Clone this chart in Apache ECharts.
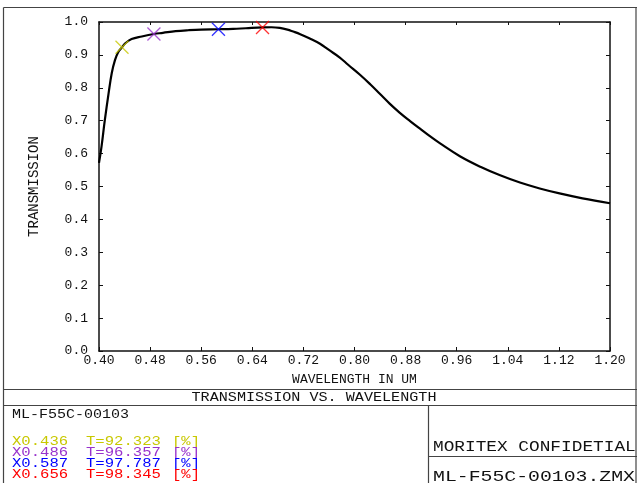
<!DOCTYPE html>
<html>
<head>
<meta charset="utf-8">
<script src="https://cdn.jsdelivr.net/npm/echarts@6/dist/echarts.min.js"></script>
<style>html,body{margin:0;padding:0;background:#fff}#c{width:637px;height:483px}</style>
</head>
<body>
<div id="c"></div>
<script>
// Curve data (wavelength in um, transmission)
var wavelength = [0.400,0.404,0.409,0.415,0.420,0.425,0.430,0.436,0.441,0.451,0.467,0.486,0.500,0.520,0.540,0.560,0.587,0.610,0.630,0.656,0.670,0.683,0.695,0.704,0.715,0.730,0.746,0.760,0.777,0.790,0.809,0.825,0.840,0.855,0.871,0.887,0.903,0.918,0.934,0.965,0.997,1.028,1.059,1.090,1.121,1.157,1.200];
var transmission = [0.572,0.622,0.700,0.783,0.845,0.884,0.908,0.923,0.935,0.948,0.956,0.9636,0.967,0.972,0.975,0.977,0.9779,0.979,0.981,0.9835,0.984,0.982,0.977,0.971,0.963,0.950,0.934,0.915,0.892,0.870,0.839,0.810,0.781,0.752,0.724,0.699,0.675,0.653,0.631,0.592,0.560,0.534,0.512,0.494,0.479,0.464,0.449];
// Marked points
var markWl = [0.436,0.486,0.587,0.656];
var markT = [92.323,96.357,97.787,98.345];
var markColors = ['#c8c800','#9933cc','#0000ff','#ff0000'];
// Axis ticks
var xMin = 0.40, xMax = 1.20, xStep = 0.08;
var yMin = 0.0, yMax = 1.0, yStep = 0.1;
var titleText = 'TRANSMISSION VS. WAVELENGTH';
var fileName = 'ML-F55C-00103';
var confText = 'MORITEX CONFIDETIAL';
var zmxText = 'ML-F55C-00103.ZMX';

var FONT = 'Liberation Mono';
var chart = echarts.init(document.getElementById('c'));

var curve = wavelength.map(function(w,i){return [w, transmission[i]];});
var xPath = 'path://M0,0L10,10M10,0L0,10';
var markSeries = markWl.map(function(w,i){
  return {
    type:'scatter', data:[[w, markT[i]/100]], symbol:xPath, symbolSize:13,
    itemStyle:{color:'rgba(0,0,0,0)', borderColor:markColors[i], borderWidth:1.3},
    z:5, silent:true
  };
});

var g = [];
function line(x1,y1,x2,y2){
  g.push({type:'line', shape:{x1:x1,y1:y1,x2:x2,y2:y2}, style:{stroke:'#444', lineWidth:1.2}, silent:true});
}
function txt(t,x,y,size,sx,color,align){
  g.push({type:'text', x:x, y:y, scaleX:sx, scaleY:1,
    style:{text:t, fontFamily:FONT, fontSize:size, fill:color||'#111', textAlign:align||'left', textVerticalAlign:'middle'}, silent:true});
}
// frame
line(3.5,7.5,637,7.5);
line(3.5,7.5,3.5,483);
line(3.5,389.5,637,389.5);
line(3.5,405.5,637,405.5);
line(428.5,405.5,428.5,483);
line(428.5,456.5,637,456.5);
line(636,7.5,636,483);
txt(titleText,314,397.5,12,1.26,'#111','center');
txt(fileName,12,415,12,1.25,'#111','left');
markWl.forEach(function(w,i){
  var y = 441.5 + i*11;
  txt('X'+w.toFixed(3),12,y,12,1.3,markColors[i],'left');
  txt('T='+markT[i].toFixed(3),86,y,12,1.3,markColors[i],'left');
  txt('[%]',172,y,12,1.3,markColors[i],'left');
});
txt(confText,433,447.5,14,1.27,'#111','left');
txt(zmxText,433,477,15,1.32,'#111','left');

var axisLineStyle = {color:'#111', width:1.5};
chart.setOption({
  animation:false,
  backgroundColor:'#fff',
  grid:{left:99, top:22, right:27, bottom:132},
  xAxis:[{
    type:'value', min:xMin, max:xMax, interval:xStep, position:'bottom',
    name:'WAVELENGTH IN UM', nameLocation:'middle', nameGap:22,
    nameTextStyle:{fontFamily:FONT, fontSize:13, color:'#111'},
    axisLine:{show:true, onZero:false, lineStyle:axisLineStyle},
    axisTick:{show:true, inside:true, length:4, lineStyle:{color:'#111', width:1}},
    axisLabel:{fontFamily:FONT, fontSize:13, color:'#111', margin:3, formatter:function(v){return v.toFixed(2);}},
    splitLine:{show:false}
  },{
    type:'value', min:xMin, max:xMax, interval:xStep, position:'top',
    axisLine:{show:true, onZero:false, lineStyle:axisLineStyle},
    axisTick:{show:true, inside:true, length:3, lineStyle:{color:'#111', width:1}},
    axisLabel:{show:false}, splitLine:{show:false}
  }],
  yAxis:[{
    type:'value', min:yMin, max:yMax, interval:yStep, position:'left',
    name:'TRANSMISSION', nameLocation:'middle', nameGap:58, nameRotate:90,
    nameTextStyle:{fontFamily:FONT, fontSize:14, color:'#111'},
    axisLine:{show:true, onZero:false, lineStyle:axisLineStyle},
    axisTick:{show:true, inside:true, length:4, lineStyle:{color:'#111', width:1}},
    axisLabel:{fontFamily:FONT, fontSize:13, color:'#111', margin:11, formatter:function(v){return v.toFixed(1);}},
    splitLine:{show:false}
  },{
    type:'value', min:yMin, max:yMax, interval:yStep, position:'right',
    axisLine:{show:true, onZero:false, lineStyle:axisLineStyle},
    axisTick:{show:true, inside:true, length:4, lineStyle:{color:'#111', width:1}},
    axisLabel:{show:false}, splitLine:{show:false}
  }],
  series:[{
    type:'line', data:curve, smooth:0.4, symbol:'none',
    lineStyle:{color:'#000', width:2.2}, z:3, silent:true
  }].concat(markSeries),
  graphic:g
});
</script>
</body>
</html>
